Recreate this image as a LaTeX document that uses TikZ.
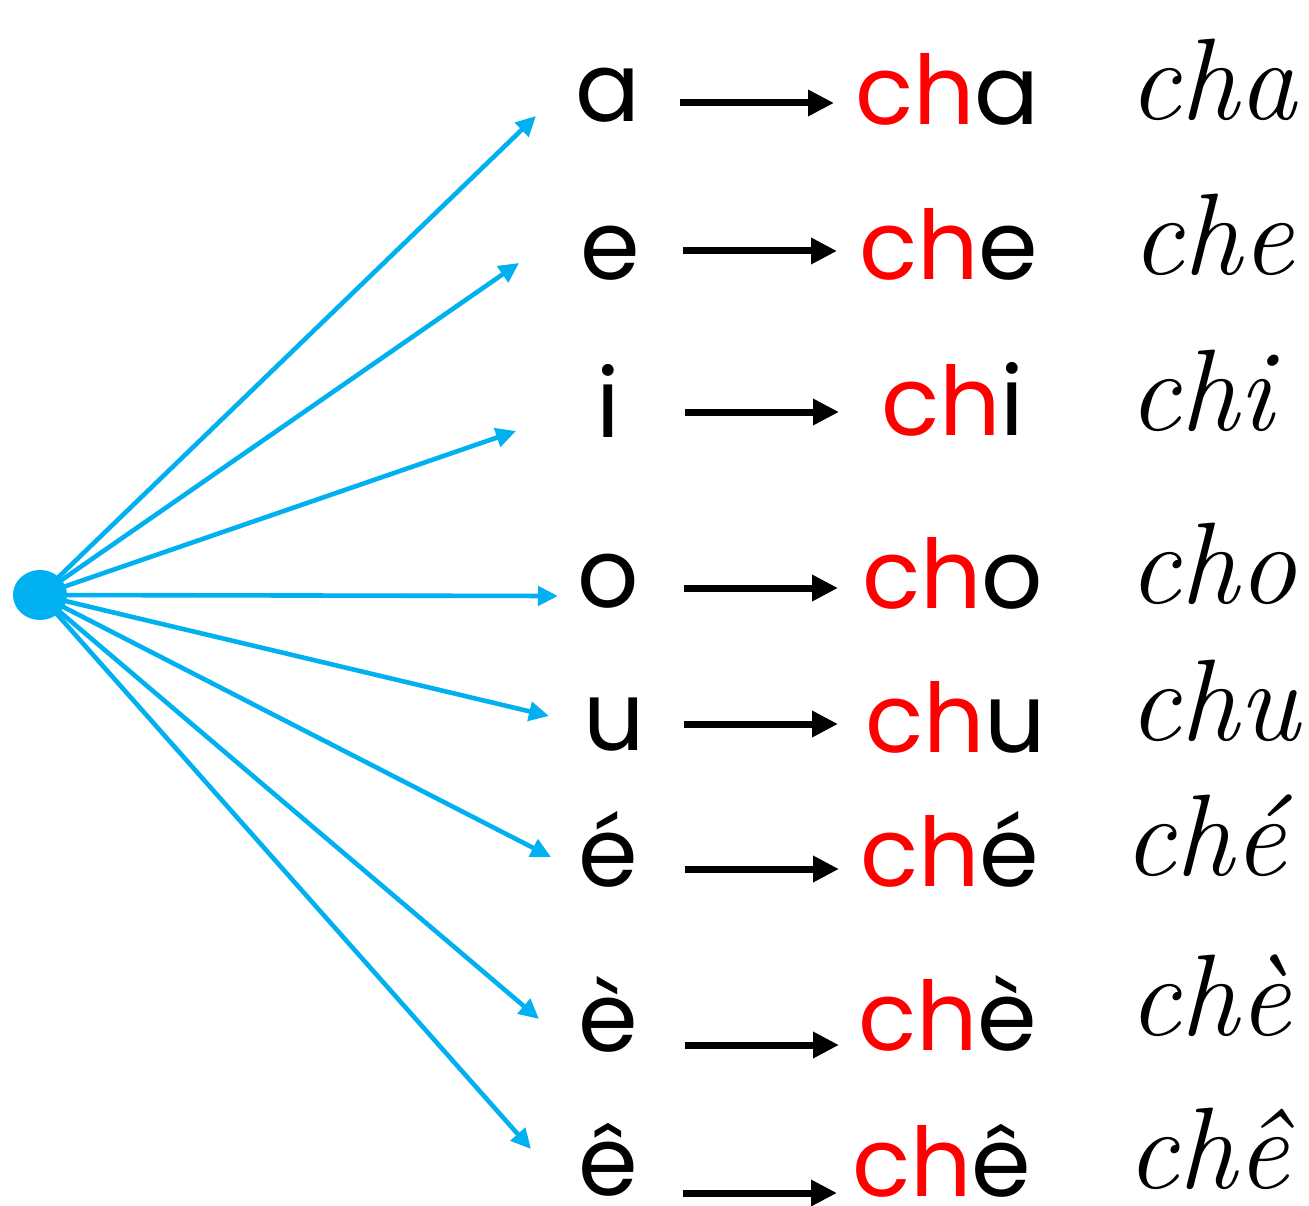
\documentclass[tikz,border=0pt]{standalone}
\usepackage{fontspec}
\setmainfont{Poppins}
\usetikzlibrary{arrows.meta,shapes.geometric}
\definecolor{hubblue}{RGB}{0,176,240}
\definecolor{syllred}{RGB}{255,0,0}
\newcommand{\cursivefont}{\fontfamily{lmr}\fontshape{it}\fontsize{116}{116}\selectfont}
\tikzset{
  vowel/.style={anchor=base, inner sep=0pt, font=\fontsize{96}{100}\selectfont},
  syll/.style={anchor=base west, inner sep=0pt, font=\fontsize{96}{100}\selectfont},
  curs/.style={anchor=base west, inner sep=0pt, font=\cursivefont},
  blackarrow/.style={line width=7pt, -{Triangle[length=26pt,width=25pt]}},
  bluearrow/.style={hubblue, line width=4.6pt, -{Triangle[length=20pt,width=19pt]}},
}
\newcommand{\ch}{\textcolor{syllred}{ch}}
\begin{document}
\begin{tikzpicture}[x=1pt,y=-1pt]
\useasboundingbox (0,0) rectangle (1309,1206);
% vowels
\node[vowel] (v1) at (608,122) {a};
\node[vowel] (v2) at (610,280) {e};
\node[vowel] (v3) at (608,437) {i};
\node[vowel] (v4) at (608,607) {o};
\node[vowel] (v5) at (614,750) {u};
\node[vowel] (v6) at (608,886) {é};
\node[vowel] (v7) at (608,1051) {è};
\node[vowel] (v8) at (608,1195) {ê};
% syllables
\node[syll] (s1) at (855,125) {\ch a};
\node[syll] (s2) at (859,280) {\ch e};
\node[syll] (s3) at (881,435) {\ch i};
\node[syll] (s4) at (862,608) {\ch o};
\node[syll] (s5) at (865,752) {\ch u};
\node[syll] (s6) at (860,886) {\ch é};
\node[syll] (s7) at (858,1050) {\ch è};
\node[syll] (s8) at (852,1196) {\ch ê};
% cursive
\node[curs] (c1) at (1128,120) {cha};
\node[curs] (c2) at (1131,275) {che};
\node[curs] (c3) at (1128,430) {chi};
\node[curs] (c4) at (1128,603) {cho};
\node[curs] (c5) at (1128,740) {chu};
\node[curs] (c6) at (1123,875) {ché};
\node[curs] (c7) at (1128,1035) {chè};
\node[curs] (c8) at (1126,1188) {chê};
% black arrows
\coordinate (a1s) at (680,103);  \coordinate (a1e) at (834,103);
\coordinate (a2s) at (683,251);  \coordinate (a2e) at (837,251);
\coordinate (a3s) at (685,412);  \coordinate (a3e) at (839,412);
\coordinate (a4s) at (684,588);  \coordinate (a4e) at (838,588);
\coordinate (a5s) at (684,724);  \coordinate (a5e) at (838,724);
\coordinate (a6s) at (685,869);  \coordinate (a6e) at (839,869);
\coordinate (a7s) at (685,1045); \coordinate (a7e) at (839,1045);
\coordinate (a8s) at (683,1193); \coordinate (a8e) at (837,1193);
\foreach \i in {1,...,8} {\draw[blackarrow] (a\i s) -- (a\i e);}
% blue fan
\coordinate (t1) at (536,116);
\coordinate (t2) at (519,263);
\coordinate (t3) at (516,431);
\coordinate (t4) at (558,596);
\coordinate (t5) at (549,716);
\coordinate (t6) at (551,857);
\coordinate (t7) at (539,1019);
\coordinate (t8) at (531,1149);
\node[ellipse, fill=hubblue, inner sep=0pt, minimum width=54pt, minimum height=50pt] (hub) at (40,595) {};
\foreach \i in {1,...,8} {\draw[bluearrow] (hub.center) -- (t\i);}
\end{tikzpicture}
\end{document}
